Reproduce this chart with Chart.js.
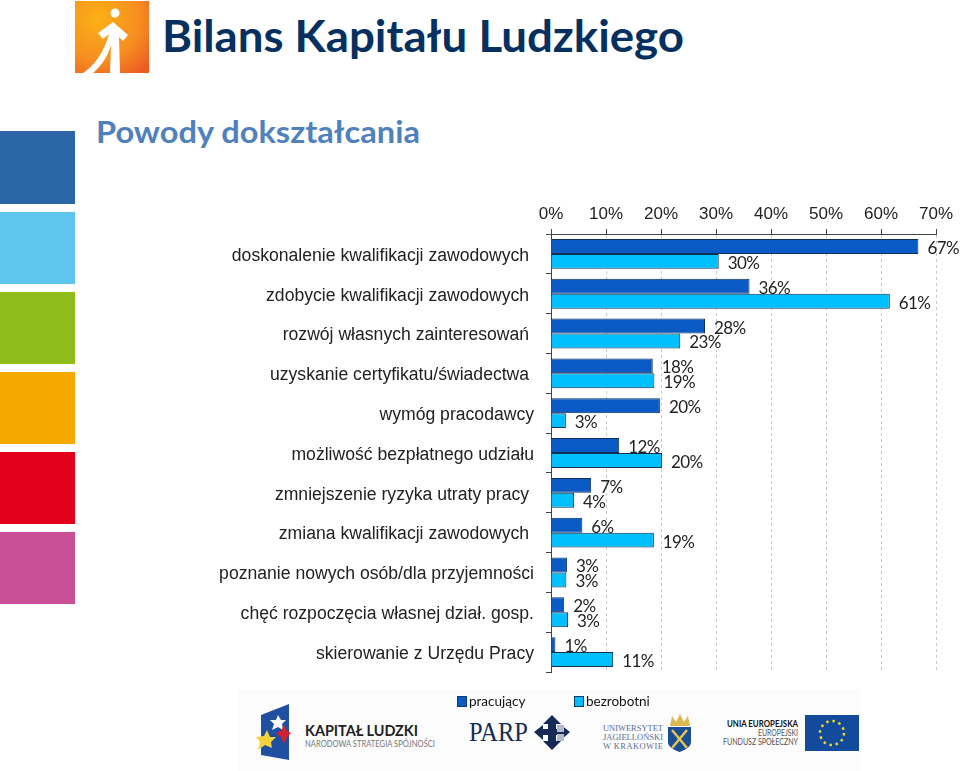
<!DOCTYPE html>
<html lang="pl">
<head>
<meta charset="utf-8">
<title>Powody dokształcania</title>
<script src="https://cdn.jsdelivr.net/npm/chart.js@4"></script>
<style>
body { margin: 0; background: #fff; width: 960px; height: 771px; overflow: hidden; position: relative; }
#decor, #chart { position: absolute; left: 0; top: 0; }
#legend { position: absolute; top: 693px; left: 0; font: 13.5px Lato, sans-serif; color: #111; }
#legend span { position: absolute; white-space: nowrap; }
#legend i { position: absolute; top: 3px; width: 8px; height: 9px; border: 1px solid #0d3a6b; }
</style>
</head>
<body>
<svg id="decor" width="960" height="771" xmlns="http://www.w3.org/2000/svg">
  <defs>
    <radialGradient id="org" cx="0.3" cy="0.25" r="0.95">
      <stop offset="0" stop-color="#fbb016"/><stop offset="0.6" stop-color="#f58f20"/><stop offset="1" stop-color="#ee5a24"/>
    </radialGradient>
  </defs>
  <!-- top logo -->
  <rect x="75" y="1" width="74" height="72" fill="url(#org)"/>
  <circle cx="115" cy="13" r="4.5" fill="#fff"/>
  <path d="M113 22 L128 35 L123 41 L119 37 L120 73 L110 73 L111 45 C107 58 101 66 93 73 L83 73 C95 65 104 52 109 34 L103 39 L98 33 Z" fill="#fff"/>
  <text x="162" y="52" font-family="Lato" font-weight="700" font-size="43" fill="#06305f" textLength="522" lengthAdjust="spacingAndGlyphs">Bilans Kapitału Ludzkiego</text>
  <text x="96" y="143" font-family="Lato" font-weight="700" font-size="31" fill="#4f81bd" textLength="324" lengthAdjust="spacingAndGlyphs">Powody dokształcania</text>
  <!-- colour blocks on the left -->
  <rect x="0" y="131" width="75" height="73" fill="#2b66a8"/>
  <rect x="0" y="212" width="75" height="72" fill="#5dc5ee"/>
  <rect x="0" y="292" width="75" height="72" fill="#8fbc1a"/>
  <rect x="0" y="372" width="75" height="72" fill="#f5a800"/>
  <rect x="0" y="452" width="75" height="72" fill="#e2001a"/>
  <rect x="0" y="532" width="75" height="72" fill="#c94f97"/>
  <!-- footer band -->
  <rect x="238" y="690" width="622" height="81" fill="#fcfcfc"/>
  <path d="M261 715 L289 704 L289 760 L261 755 Z" fill="#1f4fa0"/>
  <path d="M278 715 L281 720 L286 720 L282 724 L283 730 L278 727 L272 730 L274 724 L270 720 L276 720 Z" fill="#fff"/>
  <path d="M284 725 L287 731 L291 733 L287 737 L284 744 L281 737 L276 733 L281 731 Z" fill="#d8202c"/>
  <path d="M267 730 L270 737 L276 737 L271 742 L272 748 L265 745 L258 750 L260 742 L256 737 L264 736 Z" fill="#f4d23c"/>
  <text x="305" y="736" font-family="Lato" font-weight="700" font-size="15.5" fill="#222" textLength="113" lengthAdjust="spacingAndGlyphs">KAPITAŁ LUDZKI</text>
  <text x="305" y="747" font-family="Lato" font-size="8.5" fill="#777" textLength="130" lengthAdjust="spacingAndGlyphs">NARODOWA STRATEGIA SPÓJNOŚCI</text>
  <text x="469" y="741" font-family="Liberation Serif" font-size="28" fill="#152b55" textLength="59" lengthAdjust="spacingAndGlyphs">PARP</text>
  <path d="M552 715 L561 724 L556 724 L556 729 L561 729 L561 725 L570 732 L561 740 L561 735 L556 735 L556 741 L561 741 L552 750 L543 741 L548 741 L548 735 L543 735 L543 740 L534 732 L543 725 L543 729 L548 729 L548 724 L543 724 Z" fill="#152b55"/>
  <rect x="557" y="725" width="7" height="7" fill="#b5b9cc"/>
  <rect x="557" y="734" width="7" height="7" fill="#b5b9cc"/>
  <g font-family="Liberation Serif" font-size="8.5" fill="#5a6f90">
    <text x="603" y="731" textLength="60">UNIWERSYTET</text>
    <text x="603" y="740" textLength="60">JAGIELLOŃSKI</text>
    <text x="603" y="749" textLength="60">W KRAKOWIE</text>
  </g>
  <path d="M670 726 L672 716 L676 722 L680 714 L684 722 L688 716 L690 726 Z" fill="#dcb84e"/>
  <path d="M668 727 L691 727 L691 742 C691 747 685 750 679.5 752 C674 750 668 747 668 742 Z" fill="#1a4f94"/>
  <path d="M672 730 L687 748 M687 730 L672 748" stroke="#e5c555" stroke-width="2.5"/>
  <g font-family="Lato" text-anchor="end">
    <text x="798" y="727" font-size="10" font-weight="700" fill="#111" textLength="71" lengthAdjust="spacingAndGlyphs">UNIA EUROPEJSKA</text>
    <text x="798" y="736" font-size="9" fill="#555" textLength="40" lengthAdjust="spacingAndGlyphs">EUROPEJSKI</text>
    <text x="798" y="745" font-size="9" fill="#555" textLength="75" lengthAdjust="spacingAndGlyphs">FUNDUSZ SPOŁECZNY</text>
  </g>
  <rect x="805" y="715" width="54" height="36" fill="#124a9c"/>
  <circle cx="832" cy="733" r="12" fill="none" stroke="#f0d230" stroke-width="2.5" stroke-dasharray="2.5 3.78"/>
</svg>
<canvas id="chart" width="960" height="771"></canvas>
<div id="legend"></div>
<script>
const categories = [
	'doskonalenie kwalifikacji zawodowych ',
	'zdobycie kwalifikacji zawodowych ',
	'rozwój własnych zainteresowań ',
	'uzyskanie certyfikatu/świadectwa ',
	'wymóg pracodawcy',
	'możliwość bezpłatnego udziału',
	'zmniejszenie ryzyka utraty pracy ',
	'zmiana kwalifikacji zawodowych ',
	'poznanie nowych osób/dla przyjemności',
	'chęć rozpoczęcia własnej dział. gosp.',
	'skierowanie z Urzędu Pracy',
]
// bar lengths as measured on the picture
const pracujacy = [66.8, 36.1, 28, 18.5, 19.8, 12.4, 7.3, 5.7, 2.9, 2.4, 0.8]
const bezrobotni = [30.5, 61.6, 23.5, 18.8, 2.7, 20.2, 4.2, 18.7, 2.8, 3.1, 11.3]
// numbers as printed beside the bars
const pracujacyPrinted = [67, 36, 28, 18, 20, 12, 7, 6, 3, 2, 1]
const bezrobotniPrinted = [30, 61, 23, 19, 3, 20, 4, 19, 3, 3, 11]
const xTicks = ['0%', '10%', '20%', '30%', '40%', '50%', '60%', '70%']

const darkBlue = '#0a5ac6'
const lightBlue = '#00bfff'

// labels go under the bars, the original has 36% and 1% cut off by the next bar
const barLabels = {
	id: 'barLabels',
	beforeDatasetsDraw(chart) {
		const c = chart.ctx
		const printed = [pracujacyPrinted, bezrobotniPrinted]
		c.save()
		c.font = '17px Lato'
		c.letterSpacing = '-0.6px'
		c.fillStyle = '#222'
		c.textAlign = 'left'
		c.textBaseline = 'middle'
		printed.forEach((nums, d) => {
			chart.getDatasetMeta(d).data.forEach((bar, i) => {
				c.fillText(nums[i] + '%', bar.x + 9, bar.y + 2)
			})
		})
		c.restore()
	},
}

const chart = new Chart(document.getElementById('chart'), {
	type: 'bar',
	plugins: [barLabels],
	data: {
		labels: categories,
		datasets: [
			{
				label: 'pracujący',
				data: pracujacy,
				backgroundColor: darkBlue,
				borderColor: '#0f2f55',
				borderWidth: 1,
				categoryPercentage: 0.75,
				barPercentage: 1,
			},
			{
				label: 'bezrobotni',
				data: bezrobotni,
				backgroundColor: lightBlue,
				borderColor: '#0f2f55',
				borderWidth: 1,
				categoryPercentage: 0.75,
				barPercentage: 1,
			},
		],
	},
	options: {
		indexAxis: 'y',
		responsive: false,
		animation: false,
		layout: { padding: { left: 0, right: 24, top: 0, bottom: 99 } },
		plugins: { legend: { display: false }, tooltip: { enabled: false } },
		scales: {
			x: {
				position: 'top',
				min: 0,
				max: 70,
				afterFit: (s) => { s.height = 234 },
				border: { color: '#444', dash: [3, 3] },
				grid: { color: '#c9c9c9', tickColor: '#444', tickLength: 5, tickBorderDash: [] },
				ticks: {
					stepSize: 10,
					padding: 4,
					maxRotation: 0,
					color: '#222',
					font: { family: 'Liberation Sans', size: 17 },
					callback: (v, i) => xTicks[i],
				},
			},
			y: {
				afterFit: (s) => { s.width = 551 },
				border: { color: '#444' },
				grid: { drawOnChartArea: false, tickColor: '#444', tickLength: 5 },
				ticks: {
					padding: 12,
					labelOffset: 2,
					autoSkip: false,
					color: '#222',
					font: { family: 'Liberation Sans', size: 17.6 },
				},
			},
		},
	},
})

// legend sits in the footer band, away from the plot
const legend = document.getElementById('legend')
const legendPlaces = [457, 574]
chart.data.datasets.forEach((ds, i) => {
	const box = document.createElement('i')
	box.style.left = legendPlaces[i] + 'px'
	box.style.background = ds.backgroundColor
	const txt = document.createElement('span')
	txt.style.left = legendPlaces[i] + 12 + 'px'
	txt.textContent = ds.label
	legend.append(box, txt)
})
</script>
</body>
</html>
